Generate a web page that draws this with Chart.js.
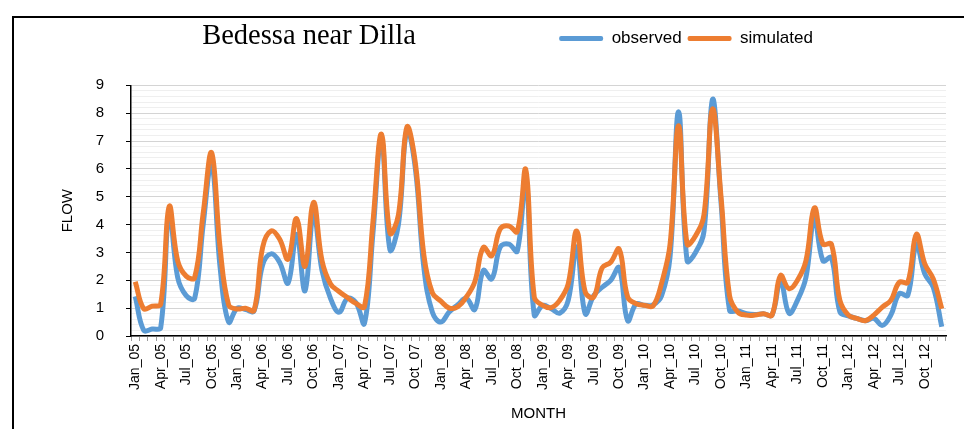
<!DOCTYPE html>
<html>
<head>
<meta charset="utf-8">
<script src="https://cdn.jsdelivr.net/npm/chart.js@4.4.1/dist/chart.umd.min.js"></script>
<style>
html,body{margin:0;padding:0;background:#fff;}
#wrap{position:relative;width:964px;height:429px;overflow:hidden;background:#fff;}
#c{position:absolute;left:0;top:0;}
#frame{position:absolute;left:12px;top:16px;width:980px;height:440px;border:2px solid #000;border-bottom:none;border-right:none;box-sizing:border-box;pointer-events:none;}
</style>
</head>
<body>
<div id="wrap">
<canvas id="c" width="964" height="429"></canvas>
<div id="frame"></div>
</div>
<script>
const months = ['Jan','Feb','Mar','Apr','May','Jun','Jul','Aug','Sep','Oct','Nov','Dec'];
const years = ['05','06','07','08','09','10','11','12'];
const categories = years.flatMap(y => months.map(m => m + '_' + y));
const tickLabels = ['Jan_05','Apr_05','Jul_05','Oct_05','Jan_06','Apr_06','Jul_06','Oct_06',
  'Jan_07','Apr_07','Jul_07','Oct_07','Jan_08','Apr_08','Jul_08','Oct_08',
  'Jan_09','Apr_09','Jul_09','Oct_09','Jan_10','Apr_10','Jul_10','Oct_10',
  'Jan_11','Apr_11','Jul_11','Oct_11','Jan_12','Apr_12','Jul_12','Oct_12'];
const yTicks = [0,1,2,3,4,5,6,7,8,9];

const observed = [
  1.42,0.20,0.25,0.30,4.45,2.10,1.45,1.35,4.00,6.20,2.45,0.50,
  1.00,0.95,0.90,2.55,2.95,2.65,1.90,3.65,1.62,4.40,2.35,1.35,
  0.85,1.35,1.20,0.45,3.70,7.10,3.10,4.00,7.40,6.00,2.45,0.85,
  0.50,0.87,1.12,1.35,0.95,2.35,2.05,3.20,3.30,3.05,5.70,0.75,
  1.10,0.98,0.82,1.28,3.20,0.80,1.45,1.75,2.00,2.45,0.55,1.15,
  1.10,1.12,1.45,2.85,8.05,2.70,3.00,3.77,8.50,4.80,0.93,0.90,
  0.80,0.77,0.80,0.75,2.00,0.82,1.28,2.10,4.25,2.70,2.82,0.87,
  0.72,0.63,0.55,0.63,0.38,0.75,1.52,1.46,3.30,2.23,1.75,0.33
];
const simulated = [
  1.95,0.98,1.07,1.15,4.65,2.70,2.15,2.10,4.40,6.58,3.15,1.12,
  0.97,1.00,0.92,3.18,3.77,3.48,2.76,4.22,2.50,4.80,2.70,1.87,
  1.60,1.38,1.17,1.05,4.10,7.25,3.70,4.35,7.50,6.20,2.90,1.55,
  1.25,1.00,1.05,1.40,1.95,3.18,2.88,3.85,3.95,3.75,5.97,1.40,
  1.10,1.02,1.28,1.87,3.77,1.58,1.40,2.45,2.65,3.12,1.40,1.16,
  1.10,1.08,1.90,3.30,7.55,3.30,3.60,4.37,8.15,5.00,1.45,0.85,
  0.75,0.75,0.80,0.75,2.17,1.70,2.00,2.70,4.60,3.30,3.30,1.28,
  0.75,0.63,0.55,0.75,1.04,1.28,1.93,1.93,3.65,2.59,2.05,0.98
];

const BLUE = '#5b9bd5';
const ORANGE = '#ed7d31';
const isInt = v => Math.abs(v - Math.round(v)) < 1e-6;

const placeBoxes = {
  id: 'placeBoxes',
  afterLayout(chart) {
    const t = chart.titleBlock;
    if (t) { t.left = 309 - 200; t.right = 309 + 200; }
    const lg = chart.legend;
    if (lg) {
      const h = lg.height, w = lg.width;
      lg.top = 24; lg.bottom = lg.top + h;
      lg.left = 686 - w / 2; lg.right = 686 + w / 2;
    }
  }
};

new Chart(document.getElementById('c'), {
  type: 'line',
  data: {
    labels: categories,
    datasets: [
      { label: 'observed', data: observed, borderColor: BLUE, backgroundColor: BLUE,
        borderWidth: 5, pointRadius: 0, tension: 0.4, fill: false, order: 1 },
      { label: 'simulated', data: simulated, borderColor: ORANGE, backgroundColor: ORANGE,
        borderWidth: 5, pointRadius: 0, tension: 0.4, fill: false, order: 0 }
    ]
  },
  options: {
    responsive: false,
    animation: false,
    devicePixelRatio: 1,
    layout: { padding: { left: 0, right: 18, top: 0, bottom: 0 } },
    plugins: {
      tooltip: { enabled: false },
      title: {
        display: true,
        text: 'Bedessa near Dilla',
        color: '#000',
        font: { family: '"Liberation Serif", "DejaVu Serif", serif', size: 28.5, weight: 'normal', lineHeight: 1.1 },
        padding: { top: 21, bottom: 0 }
      },
      legend: {
        display: true,
        position: 'top',
        labels: {
          color: '#000',
          font: { family: '"Liberation Sans", Arial, sans-serif', size: 17 },
          boxWidth: 44,
          boxHeight: 5,
          padding: 6,
          sort: (a, b) => a.datasetIndex - b.datasetIndex,
          generateLabels(chart) {
            const items = Chart.defaults.plugins.legend.labels.generateLabels(chart);
            items.forEach(it => { it.lineWidth = 0; it.fillStyle = it.strokeStyle; it.borderRadius = 2; });
            return items;
          }
        }
      }
    },
    scales: {
      x: {
        type: 'category',
        offset: true,
        grid: { display: true, offset: true, drawOnChartArea: false, drawTicks: true, tickLength: 5, tickColor: '#9a9a9a' },
        border: { display: true, color: '#000', width: 1.5 },
        ticks: {
          autoSkip: false, maxRotation: 90, minRotation: 90, padding: 3,
          color: '#000',
          font: { family: '"Liberation Sans", Arial, sans-serif', size: 14 },
          callback: function (val) {
            const lab = this.getLabelForValue(val);
            return tickLabels.includes(lab) ? lab : '';
          }
        },
        title: {
          display: true, text: 'MONTH', color: '#000',
          font: { family: '"Liberation Sans", Arial, sans-serif', size: 15 },
          padding: { top: 0, bottom: 6 }
        },
        afterFit(scale) { scale.height = 93; }
      },
      y: {
        min: 0, max: 9,
        grid: {
          color: ctx => isInt(ctx.tick.value) ? '#d4d4d4' : '#efefef',
          tickColor: ctx => isInt(ctx.tick.value) ? '#000' : 'rgba(0,0,0,0)',
          tickLength: 5, lineWidth: 1
        },
        border: { display: true, color: '#000', width: 1.5 },
        ticks: {
          stepSize: 0.2, autoSkip: false, padding: 22, color: '#000',
          font: { family: '"Liberation Sans", Arial, sans-serif', size: 15 },
          callback: v => {
            if (!isInt(v)) return '';
            const r = Math.round(v);
            return yTicks.includes(r) ? String(r) : '';
          }
        },
        title: {
          display: true, text: 'FLOW', color: '#000',
          font: { family: '"Liberation Sans", Arial, sans-serif', size: 15 },
          padding: { top: 59, bottom: 0 }
        },
        afterFit(scale) { scale.width = 131; }
      }
    }
  },
  plugins: [placeBoxes]
});
</script>
</body>
</html>
